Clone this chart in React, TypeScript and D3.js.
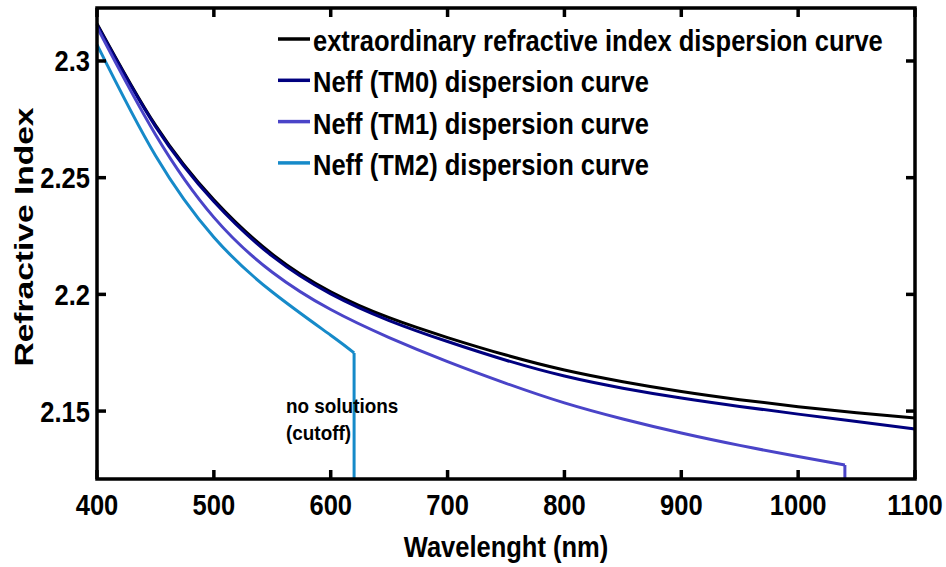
import React from "react";
import { scaleLinear, line, curveNatural } from "d3";

const width = 946, height = 567
const margin = { left: 97, right: 31, top: 8, bottom: 88 }

// wavelengths in nm
const wavelength = [400, 450, 500, 550, 600, 650, 700, 750, 800, 850, 900, 950, 1000, 1050, 1100]
const extraordinary = [2.316, 2.2725, 2.2405, 2.2172, 2.2011, 2.190, 2.1815, 2.174, 2.1676, 2.1626, 2.1584, 2.1549, 2.1519, 2.1493, 2.147]
const tm0 = [2.3155, 2.272, 2.2398, 2.2164, 2.2002, 2.1888, 2.1798, 2.1718, 2.165, 2.1598, 2.1556, 2.152, 2.1487, 2.1455, 2.1423]

const tm1Wavelength = [400, 450, 500, 550, 600, 650, 700, 750, 800, 850, 900, 950, 1000, 1040]
const tm1 = [2.3145, 2.2685, 2.233, 2.2095, 2.1935, 2.1815, 2.1712, 2.1619, 2.1535, 2.1466, 2.1406, 2.1353, 2.1305, 2.1269]

const tm2Wavelength = [400, 450, 500, 550, 600, 620]
const tm2 = [2.307, 2.2595, 2.2245, 2.201, 2.1825, 2.1749]

const xTicks = [400, 500, 600, 700, 800, 900, 1000, 1100]
const yTicks = [2.15, 2.2, 2.25, 2.3]

const legendLabels = [
  "extraordinary refractive index dispersion curve",
  "Neff (TM0) dispersion curve",
  "Neff (TM1) dispersion curve",
  "Neff (TM2) dispersion curve",
]
const colors = ["#000000", "#00007f", "#4a44c8", "#168ac9"]

const font = "'Liberation Sans', Arial, sans-serif"
const sx = 0.88

const App = () => {
  const x = scaleLinear().domain([400, 1100]).range([margin.left, width - margin.right])
  const y = scaleLinear().domain([2.1209, 2.3227]).range([height - margin.bottom, margin.top])
  const yMin = y.domain()[0]

  const path = line<[number, number]>()
    .x(d => x(d[0]))
    .y(d => y(d[1]))
    .curve(curveNatural)

  const series = [
    { xs: wavelength, ys: extraordinary, cutoff: false },
    { xs: wavelength, ys: tm0, cutoff: false },
    { xs: tm1Wavelength, ys: tm1, cutoff: true },
    { xs: tm2Wavelength, ys: tm2, cutoff: true },
  ]

  const x0 = x.range()[0], x1 = x.range()[1]
  const y0 = y.range()[1], y1 = y.range()[0]
  const tickLen = 9

  return <svg width={width} height={height} style={{ position: "absolute", left: 0, top: 0, background: "#fff" }}
    fontFamily={font} fontWeight="bold">
    {series.map((s, i) => {
      const pts = s.xs.map((w, j) => [w, s.ys[j]] as [number, number])
      const last = pts[pts.length - 1]
      return <g key={i}>
        <path d={path(pts) || ""} fill="none" stroke={colors[i]} strokeWidth={3} />
        {s.cutoff && <line x1={x(last[0])} x2={x(last[0])} y1={y(last[1])} y2={y(yMin)}
          stroke={colors[i]} strokeWidth={3} />}
      </g>
    })}

    {/* frame with inward ticks */}
    <rect x={x0} y={y0} width={x1 - x0} height={y1 - y0} fill="none" stroke="#000" strokeWidth={3.5} />
    {xTicks.map(t => <g key={t}>
      <line x1={x(t)} x2={x(t)} y1={y1} y2={y1 - tickLen} stroke="#000" strokeWidth={3.5} />
      <line x1={x(t)} x2={x(t)} y1={y0} y2={y0 + tickLen} stroke="#000" strokeWidth={3.5} />
      <text transform={`translate(${x(t)},515) scale(${sx},1)`} textAnchor="middle" fontSize={29}>{t}</text>
    </g>)}
    {yTicks.map(t => <g key={t}>
      <line x1={x0} x2={x0 + tickLen} y1={y(t)} y2={y(t)} stroke="#000" strokeWidth={3.5} />
      <line x1={x1} x2={x1 - tickLen} y1={y(t)} y2={y(t)} stroke="#000" strokeWidth={3.5} />
      <text transform={`translate(90,${y(t) + 10.5}) scale(${sx},1)`} textAnchor="end" fontSize={29}>{t}</text>
    </g>)}

    <text transform={`translate(${(x0 + x1) / 2},557) scale(${sx},1)`} textAnchor="middle" fontSize={29}>
      Wavelenght (nm)
    </text>
    <text transform={`translate(33,237) rotate(-90) scale(1.29,1)`} textAnchor="middle" fontSize={26}>
      Refractive Index
    </text>

    {legendLabels.map((l, i) => {
      const ly = 39 + i * 41.3
      return <g key={l}>
        <line x1={278} x2={310} y1={ly} y2={ly} stroke={colors[i]} strokeWidth={3.5} />
        <text transform={`translate(313,${ly + 12}) scale(${sx},1)`} fontSize={29}>{l}</text>
      </g>
    })}

    <text transform={`translate(286,413) scale(0.9,1)`} fontSize={21}>no solutions</text>
    <text transform={`translate(286,440) scale(0.9,1)`} fontSize={21}>(cutoff)</text>
  </svg>
}

export default App;
